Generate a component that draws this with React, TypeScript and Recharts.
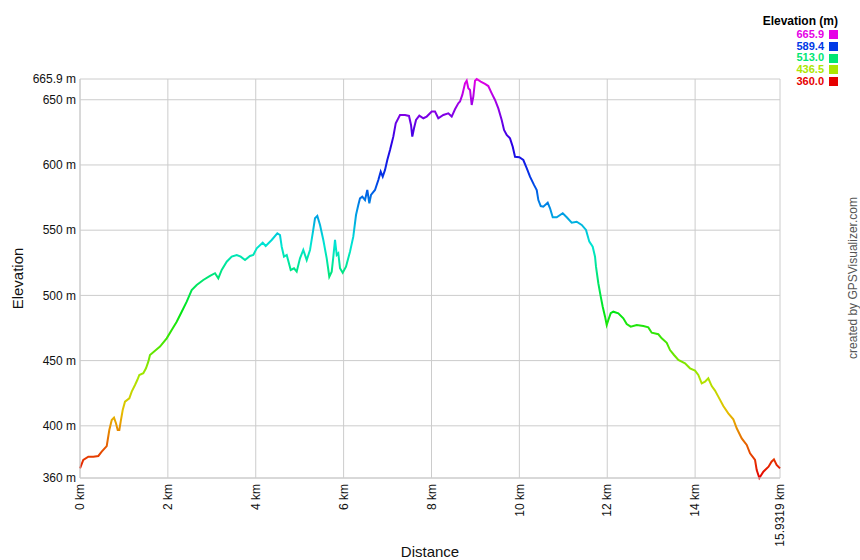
import { LineChart, Line, XAxis, YAxis, CartesianGrid } from "recharts";

const distanceKm = [
  0, 0.075, 0.189, 0.303, 0.417, 0.494, 0.608, 0.667, 0.722, 0.774, 0.819, 0.858, 0.895, 0.926, 0.972,
  1.024, 1.122, 1.177, 1.252, 1.304, 1.35, 1.441, 1.502, 1.555, 1.593, 1.707, 1.821, 1.973, 2.087, 2.201,
  2.315, 2.429, 2.542, 2.656, 2.806, 2.959, 3.073, 3.148, 3.225, 3.339, 3.453, 3.567, 3.658, 3.756, 3.869,
  3.944, 4.022, 4.158, 4.227, 4.363, 4.491, 4.552, 4.591, 4.643, 4.705, 4.796, 4.871, 4.932, 5.007, 5.082,
  5.16, 5.235, 5.296, 5.349, 5.401, 5.463, 5.538, 5.615, 5.674, 5.729, 5.766, 5.804, 5.843, 5.879, 5.918,
  5.979, 6.054, 6.145, 6.22, 6.282, 6.334, 6.373, 6.425, 6.487, 6.539, 6.585, 6.623, 6.714, 6.79, 6.844,
  6.89, 6.942, 6.994, 7.056, 7.131, 7.186, 7.283, 7.397, 7.488, 7.534, 7.563, 7.602, 7.648, 7.723, 7.814,
  7.891, 8.005, 8.08, 8.155, 8.269, 8.383, 8.46, 8.535, 8.61, 8.649, 8.701, 8.763, 8.801, 8.838, 8.877,
  8.915, 8.952, 8.991, 9.029, 9.12, 9.218, 9.293, 9.371, 9.446, 9.521, 9.598, 9.651, 9.712, 9.787, 9.849,
  9.901, 9.999, 10.09, 10.167, 10.242, 10.333, 10.395, 10.432, 10.486, 10.545, 10.645, 10.698, 10.759, 10.85, 10.987,
  11.078, 11.191, 11.305, 11.419, 11.517, 11.592, 11.669, 11.722, 11.744, 11.797, 11.852, 11.897, 11.95, 11.988, 12.025,
  12.079, 12.138, 12.252, 12.366, 12.443, 12.534, 12.671, 12.821, 12.935, 13.012, 13.163, 13.24, 13.354, 13.429, 13.52,
  13.618, 13.77, 13.884, 13.998, 14.073, 14.15, 14.225, 14.3, 14.378, 14.453, 14.528, 14.642, 14.755, 14.87, 14.947,
  15.061, 15.175, 15.25, 15.364, 15.402, 15.462, 15.553, 15.671, 15.739, 15.794, 15.855, 15.9319,
];

const elevationM = [
  367.4, 373.8, 376.3, 376.3, 376.9, 380.2, 384.5, 396.8, 404.5, 406.3, 402, 396.8, 396.8, 403.2, 412.1,
  418.5, 421.1, 426.2, 431.3, 435.1, 439, 440.3, 444.1, 449.2, 454.3, 457.6, 460.7, 467.1, 473.5, 479.8,
  487.5, 495.2, 504.1, 508, 511.8, 514.9, 517, 513.1, 519.5, 525.8, 529.7, 531, 529.7, 527.1, 530.2,
  531, 536.1, 540.4, 537.9, 542.5, 547.6, 546.3, 537.3, 529.7, 531, 519.5, 520.8, 518.2, 528.4, 534.8,
  527.1, 534.8, 547.6, 559.1, 560.9, 554, 542.5, 528.4, 514.3, 518.2, 529.7, 542.5, 531, 532.3, 520.8,
  517.4, 522, 533.5, 545, 561.6, 569.3, 574.4, 575.7, 573.1, 580.8, 570.6, 577, 580.8, 588.5, 594.9,
  591, 596.2, 603.8, 611.5, 621.7, 632, 638.3, 638.3, 637.6, 630.7, 621.7, 628.1, 634.5, 637.8, 635.8,
  637.1, 640.9, 640.9, 635.8, 638.3, 639.6, 637.1, 642.7, 647.3, 648.6, 653.7, 662.6, 664.6, 658.8, 657.5,
  646, 652.4, 664.6, 665.9, 663.9, 662.1, 660.5, 654.9, 649.8, 643.4, 634.5, 626.8, 623, 620.4, 614,
  606.3, 605.9, 603.8, 597.5, 591, 584.7, 580.8, 573.1, 568.5, 568, 571.1, 566.8, 559.9, 559.9, 563,
  559.9, 555.8, 556.5, 554, 550.2, 541.2, 537.3, 529.7, 522, 509.3, 499, 491.3, 483.7, 477.3, 481.1,
  486.3, 487.5, 486.3, 482.4, 478, 476, 477.3, 476.5, 475.5, 471.4, 470.2, 467.1, 463.7, 458.1, 454.3,
  450.5, 447.9, 444.1, 442.3, 439, 432.6, 433.8, 436.4, 430.5, 427, 422.4, 415.2, 409.6, 405, 398.1,
  390.4, 385.3, 378.9, 373.8, 366.1, 360, 364.8, 368.7, 372.5, 374.3, 370, 367.4,
];

const xTicks = [0, 2, 4, 6, 8, 10, 12, 14, 15.9319];
const yTicks = [360, 400, 450, 500, 550, 600, 650, 665.9];
const legendValues = [665.9, 589.4, 513.0, 436.5, 360.0];

const data = distanceKm.map((d, i) => ({ dist: d, ele: elevationM[i] }));

const FONT = "'Liberation Sans', Arial, sans-serif";
const minEle = 360;
const maxEle = 665.9;

// hue runs from red at the lowest point to magenta at the highest
const hueFor = (v: number) => ((v - minEle) / (maxEle - minEle)) * 300;
const colorFor = (v: number) => `hsl(${hueFor(v)}, 100%, 45%)`;
const gradStops = Array.from({ length: 13 }, (_, i) => i / 12);

const XTick = (props: any) => {
  const { x, y, payload } = props;
  return (
    <text
      x={x}
      y={y}
      dy="0.35em"
      transform={`rotate(-90, ${x}, ${y})`}
      textAnchor="end"
      fontSize={12}
      fontFamily={FONT}
      fill="#111"
    >
      {`${payload.value} km`}
    </text>
  );
};

export default function App() {
  return (
    <div style={{ position: "absolute", left: 0, top: 0, width: 860, height: 560, background: "#fff" }}>
      <LineChart width={860} height={560} data={data} margin={{ top: 79, right: 80, left: 0, bottom: 0 }}>
        <defs>
          <linearGradient id="eleGrad" x1="0" y1="0" x2="0" y2="1">
            {gradStops.map((o) => (
              <stop key={o} offset={o} stopColor={`hsl(${300 - o * 300}, 100%, 45%)`} />
            ))}
          </linearGradient>
        </defs>
        <CartesianGrid stroke="#cccccc" horizontalValues={yTicks} verticalValues={xTicks} />
        <XAxis
          dataKey="dist"
          type="number"
          domain={[0, 15.9319]}
          ticks={xTicks}
          interval={0}
          height={82}
          axisLine={{ stroke: "#cccccc" }}
          tickLine={false}
          tickSize={2}
          tickMargin={4}
          tick={<XTick />}
          label={{
            value: "Distance",
            position: "insideBottom",
            offset: 3,
            fontSize: 15,
            fontFamily: FONT,
            fill: "#111",
          }}
        />
        <YAxis
          dataKey="ele"
          type="number"
          domain={[360, 665.9]}
          ticks={yTicks}
          interval={0}
          width={80}
          axisLine={{ stroke: "#cccccc" }}
          tickLine={false}
          tickSize={2}
          tickMargin={2}
          tick={{ fontSize: 12, fontFamily: FONT, fill: "#111" }}
          tickFormatter={(v) => `${v} m`}
          label={{
            content: (p: any) => {
              const vb = p.viewBox;
              const cx = vb.x + 17;
              const cy = vb.y + vb.height / 2;
              return (
                <text
                  x={cx}
                  y={cy}
                  transform={`rotate(-90, ${cx}, ${cy})`}
                  textAnchor="middle"
                  dominantBaseline="central"
                  fontSize={15}
                  fontFamily={FONT}
                  fill="#111"
                >
                  Elevation
                </text>
              );
            },
          }}
        />
        <Line
          type="linear"
          dataKey="ele"
          stroke="url(#eleGrad)"
          strokeWidth={2}
          dot={false}
          activeDot={false}
          isAnimationActive={false}
        />
      </LineChart>

      {/* legend, top right */}
      <div
        style={{
          position: "absolute",
          right: 22,
          top: 14,
          fontFamily: FONT,
          fontSize: 11,
          fontWeight: "bold",
          textAlign: "right",
          lineHeight: "11.7px",
        }}
      >
        <div style={{ fontSize: 12, lineHeight: "14px", marginBottom: 1, color: "#000" }}>Elevation (m)</div>
        {legendValues.map((v) => (
          <div
            key={v}
            style={{ display: "flex", justifyContent: "flex-end", alignItems: "center", height: 11.7, overflow: "hidden" }}
          >
            <span style={{ color: colorFor(v) }}>{v.toFixed(1)}</span>
            <span
              style={{
                display: "inline-block",
                width: 9,
                height: 9,
                marginLeft: 5,
                background: colorFor(v),
              }}
            />
          </div>
        ))}
      </div>

      <div
        style={{
          position: "absolute",
          left: 853,
          top: 278,
          transform: "translate(-50%, -50%) rotate(-90deg)",
          fontFamily: FONT,
          fontSize: 12,
          color: "#555",
          whiteSpace: "nowrap",
        }}
      >
        created by GPSVisualizer.com
      </div>
    </div>
  );
}
